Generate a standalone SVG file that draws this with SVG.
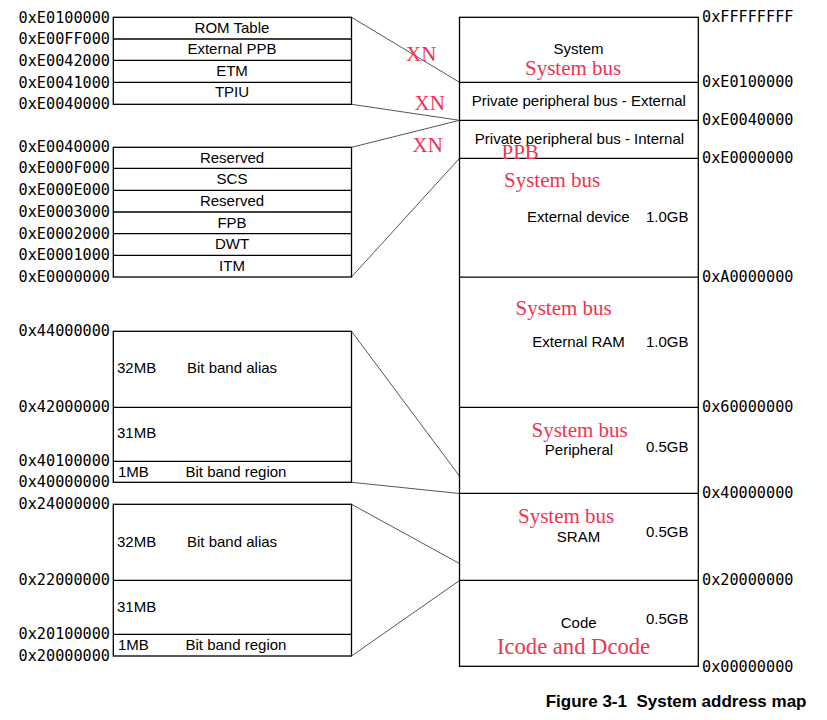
<svg xmlns="http://www.w3.org/2000/svg" width="827" height="720" viewBox="0 0 827 720">
<style>
.box{fill:none;stroke:#000;stroke-width:1.3}
.div{stroke:#000;stroke-width:1.3}
.con{stroke:#555;stroke-width:1;fill:none}
.addr{font-family:"DejaVu Sans Mono","Liberation Mono",monospace;font-size:15.2px;fill:#000}
.addrL{text-anchor:end}
.t{font-family:"Liberation Sans",Arial,sans-serif;font-size:15px;fill:#000}
.c{text-anchor:middle}
.e{text-anchor:end}
.red{font-family:"Liberation Serif","Times New Roman",serif;font-size:21px;fill:#ee3450}
.cap{font-family:"Liberation Sans",Arial,sans-serif;font-size:17px;font-weight:bold;fill:#000;text-anchor:end}
</style>
<rect width="827" height="720" fill="#fff"/>

<g id="connectors">
<line class="con" x1="351.5" y1="17.3" x2="459.5" y2="82.3"/>
<line class="con" x1="351.5" y1="104.3" x2="459.5" y2="120.3"/>
<line class="con" x1="351.5" y1="147.3" x2="459.5" y2="120.3"/>
<line class="con" x1="351.5" y1="277" x2="459.5" y2="158.3"/>
<line class="con" x1="351.5" y1="331.3" x2="459.5" y2="476"/>
<line class="con" x1="351.5" y1="482.3" x2="459.5" y2="493.5"/>
<line class="con" x1="351.5" y1="504.3" x2="459.5" y2="563.5"/>
<line class="con" x1="351.5" y1="656" x2="459.5" y2="580.5"/>
</g>

<g id="ppb-external-detail">
<rect class="box" x="113.3" y="17.3" width="238.2" height="87"/>
<line class="div" x1="113.3" y1="39" x2="351.5" y2="39"/>
<line class="div" x1="113.3" y1="60.3" x2="351.5" y2="60.3"/>
<line class="div" x1="113.3" y1="82.3" x2="351.5" y2="82.3"/>
<text class="t c" x="232" y="33.3">ROM Table</text>
<text class="t c" x="232" y="54.3">External PPB</text>
<text class="t c" x="232" y="75.6">ETM</text>
<text class="t c" x="232" y="97.3">TPIU</text>
<text class="addr addrL" x="110" y="22.5">0xE0100000</text>
<text class="addr addrL" x="110" y="44.2">0xE00FF000</text>
<text class="addr addrL" x="110" y="65.5">0xE0042000</text>
<text class="addr addrL" x="110" y="87.5">0xE0041000</text>
<text class="addr addrL" x="110" y="109.4">0xE0040000</text>
</g>

<g id="ppb-internal-detail">
<rect class="box" x="113.3" y="147.3" width="238.2" height="129.7"/>
<line class="div" x1="113.3" y1="168.3" x2="351.5" y2="168.3"/>
<line class="div" x1="113.3" y1="190.3" x2="351.5" y2="190.3"/>
<line class="div" x1="113.3" y1="212" x2="351.5" y2="212"/>
<line class="div" x1="113.3" y1="233.7" x2="351.5" y2="233.7"/>
<line class="div" x1="113.3" y1="255.3" x2="351.5" y2="255.3"/>
<text class="t c" x="232" y="163.3">Reserved</text>
<text class="t c" x="232" y="184.3">SCS</text>
<text class="t c" x="232" y="206">Reserved</text>
<text class="t c" x="232" y="227.7">FPB</text>
<text class="t c" x="232" y="249.3">DWT</text>
<text class="t c" x="232" y="271">ITM</text>
<text class="addr addrL" x="110" y="152.4">0xE0040000</text>
<text class="addr addrL" x="110" y="173.4">0xE000F000</text>
<text class="addr addrL" x="110" y="195.4">0xE000E000</text>
<text class="addr addrL" x="110" y="217.1">0xE0003000</text>
<text class="addr addrL" x="110" y="238.8">0xE0002000</text>
<text class="addr addrL" x="110" y="260.4">0xE0001000</text>
<text class="addr addrL" x="110" y="282.1">0xE0000000</text>
</g>

<g id="bitband-peripheral">
<rect class="box" x="113.3" y="331.3" width="238.2" height="151"/>
<line class="div" x1="113.3" y1="407.3" x2="351.5" y2="407.3"/>
<line class="div" x1="113.3" y1="461.3" x2="351.5" y2="461.3"/>
<text class="t" x="117" y="373.3">32MB</text>
<text class="t" x="187" y="373.3">Bit band alias</text>
<text class="t" x="117" y="438.3">31MB</text>
<text class="t" x="118" y="476.7">1MB</text>
<text class="t" x="185.5" y="476.7">Bit band region</text>
<text class="addr addrL" x="110" y="336.4">0x44000000</text>
<text class="addr addrL" x="110" y="412.4">0x42000000</text>
<text class="addr addrL" x="110" y="466">0x40100000</text>
<text class="addr addrL" x="110" y="487.4">0x40000000</text>
</g>

<g id="bitband-sram">
<rect class="box" x="113.3" y="504.3" width="238.2" height="151.7"/>
<line class="div" x1="113.3" y1="580.3" x2="351.5" y2="580.3"/>
<line class="div" x1="113.3" y1="634.3" x2="351.5" y2="634.3"/>
<text class="t" x="117" y="546.7">32MB</text>
<text class="t" x="187" y="546.7">Bit band alias</text>
<text class="t" x="117" y="611.7">31MB</text>
<text class="t" x="118" y="650">1MB</text>
<text class="t" x="185.5" y="650">Bit band region</text>
<text class="addr addrL" x="110" y="509">0x24000000</text>
<text class="addr addrL" x="110" y="585.4">0x22000000</text>
<text class="addr addrL" x="110" y="639">0x20100000</text>
<text class="addr addrL" x="110" y="661">0x20000000</text>
</g>

<g id="memory-map">
<rect class="box" x="459.5" y="17.3" width="238.8" height="649"/>
<line class="div" x1="459.5" y1="82.3" x2="698.3" y2="82.3"/>
<line class="div" x1="459.5" y1="120.3" x2="698.3" y2="120.3"/>
<line class="div" x1="459.5" y1="158.3" x2="698.3" y2="158.3"/>
<line class="div" x1="459.5" y1="277.2" x2="698.3" y2="277.2"/>
<line class="div" x1="459.5" y1="407.3" x2="698.3" y2="407.3"/>
<line class="div" x1="459.5" y1="493.3" x2="698.3" y2="493.3"/>
<line class="div" x1="459.5" y1="580.3" x2="698.3" y2="580.3"/>
<text class="addr" x="702" y="22.4">0xFFFFFFFF</text>
<text class="addr" x="702" y="87">0xE0100000</text>
<text class="addr" x="702" y="125">0xE0040000</text>
<text class="addr" x="702" y="163">0xE0000000</text>
<text class="addr" x="702" y="282.3">0xA0000000</text>
<text class="addr" x="702" y="412.3">0x60000000</text>
<text class="addr" x="702" y="498.3">0x40000000</text>
<text class="addr" x="702" y="585.2">0x20000000</text>
<text class="addr" x="702" y="671.7">0x00000000</text>
</g>

<g id="region-system">
<text class="t c" x="578.5" y="54">System</text>
<text class="red" x="525" y="74.5">System bus</text>
</g>
<g id="region-ppb-external">
<text class="t c" x="578.8" y="106">Private peripheral bus - External</text>
</g>
<g id="region-ppb-internal">
<text class="t c" x="579.5" y="144">Private peripheral bus - Internal</text>
<text class="red" x="501.5" y="158.5">PPB</text>
</g>
<g id="region-external-device">
<text class="red" x="504" y="187">System bus</text>
<text class="t c" x="578.3" y="222">External device</text>
<text class="t e" x="688.5" y="222">1.0GB</text>
</g>
<g id="region-external-ram">
<text class="red" x="515.5" y="315">System bus</text>
<text class="t c" x="578.5" y="347">External RAM</text>
<text class="t e" x="688.5" y="347">1.0GB</text>
</g>
<g id="region-peripheral">
<text class="red" x="531.5" y="437">System bus</text>
<text class="t c" x="579" y="455">Peripheral</text>
<text class="t e" x="688.5" y="452">0.5GB</text>
</g>
<g id="region-sram">
<text class="red" x="518" y="523">System bus</text>
<text class="t c" x="578.5" y="541.7">SRAM</text>
<text class="t e" x="688.5" y="536.7">0.5GB</text>
</g>
<g id="region-code">
<text class="t c" x="578.7" y="628">Code</text>
<text class="t e" x="688.5" y="624">0.5GB</text>
<text class="red" x="497" y="654" style="font-size:22.6px">Icode and Dcode</text>
</g>

<g id="xn-labels">
<text class="red" x="406" y="61">XN</text>
<text class="red" x="414.5" y="110">XN</text>
<text class="red" x="412.5" y="152">XN</text>
</g>

<text class="cap" x="806.5" y="706.7" xml:space="preserve">Figure 3-1  System address map</text>
</svg>
